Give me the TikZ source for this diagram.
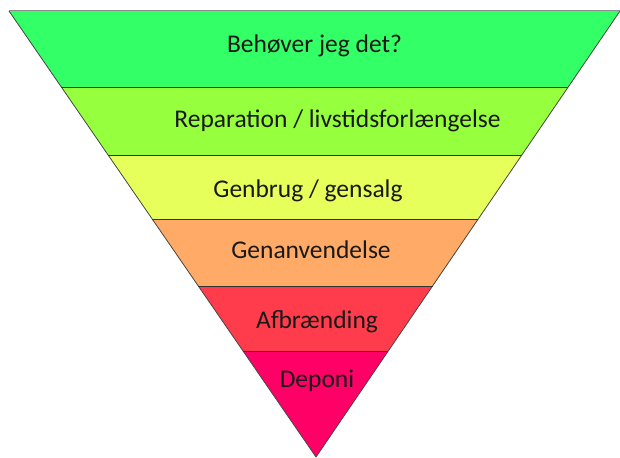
\documentclass[tikz,border=0pt]{standalone}
\usepackage{fontspec}
\setmainfont{Carlito}
\usetikzlibrary{calc}
\definecolor{c1}{RGB}{51,255,102}
\definecolor{c2}{RGB}{150,255,62}
\definecolor{c3}{RGB}{230,255,90}
\definecolor{c4}{RGB}{255,170,102}
\definecolor{c5}{RGB}{255,60,75}
\definecolor{c6}{RGB}{255,0,102}
\definecolor{edge}{RGB}{70,70,70}
\tikzset{
  band/.style={draw=edge, line width=0.8pt, line join=round},
  lbl/.style={anchor=base, inner sep=0pt, font=\fontsize{25.5}{30}\selectfont, text=black!90}
}
\begin{document}
\begin{tikzpicture}[x=1pt,y=-1pt]
\useasboundingbox (0,0) rectangle (620,457);
\coordinate (A) at (9,11);
\coordinate (B) at (620,11);
\coordinate (C) at (316,457);
\foreach \n/\t in {1/0.1704,2/0.3229,3/0.4664,4/0.6166,5/0.7623}{
  \coordinate (L\n) at ($(A)!\t!(C)$);
  \coordinate (R\n) at ($(B)!\t!(C)$);
}
\fill[c1] (A) -- (B) -- (R1) -- (L1) -- cycle;
\fill[c2] (L1) -- (R1) -- (R2) -- (L2) -- cycle;
\fill[c3] (L2) -- (R2) -- (R3) -- (L3) -- cycle;
\fill[c4] (L3) -- (R3) -- (R4) -- (L4) -- cycle;
\fill[c5] (L4) -- (R4) -- (R5) -- (L5) -- cycle;
\fill[c6] (L5) -- (R5) -- (C) -- cycle;
\draw[band] (B) -- (C) -- (A);
\draw[draw=black!45, line width=1pt] (A) -- (B);
\foreach \n in {1,...,5}{ \draw[band, draw=black!80] (L\n) -- (R\n); }
\node[lbl] (n1) at (314.5,53) {Behøver jeg det?};
\node[lbl] (n2) at (337.5,128) {Reparation / livstidsforlængelse};
\node[lbl] (n3) at (308,197) {Genbrug / gensalg};
\node[lbl] (n4) at (311,258) {Genanvendelse};
\node[lbl] (n5) at (317,328) {Afbrænding};
\node[lbl] (n6) at (317,387) {Deponi};
\end{tikzpicture}
\end{document}
